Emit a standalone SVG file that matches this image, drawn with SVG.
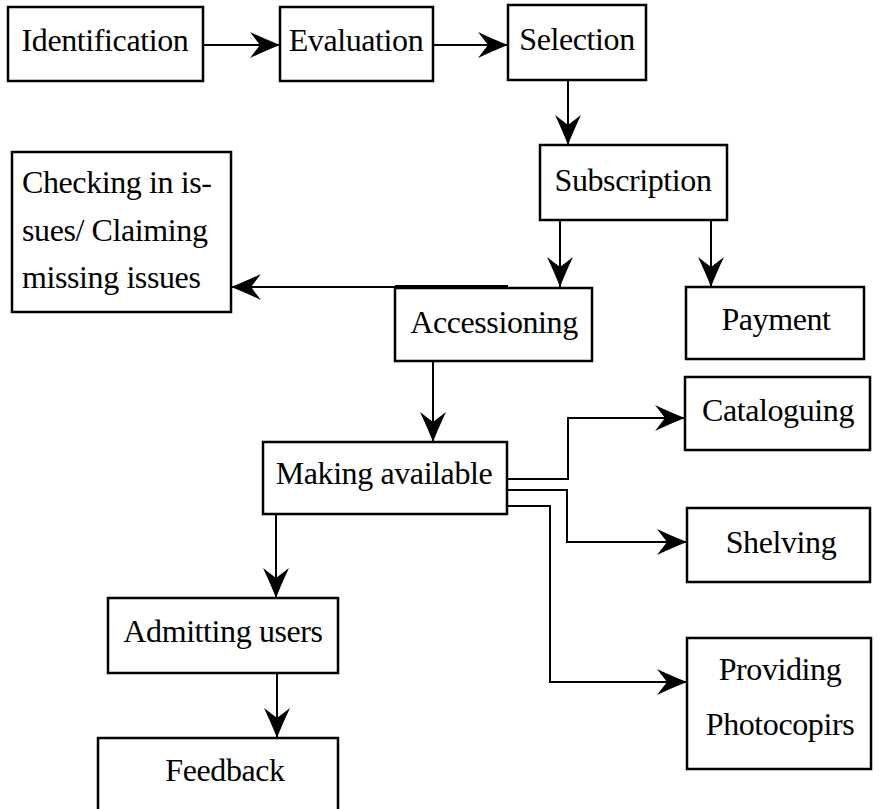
<svg xmlns="http://www.w3.org/2000/svg" width="880" height="809" viewBox="0 0 880 809">
<style>
.box{fill:#fff;stroke:#000;stroke-width:2.5}
.c{fill:none;stroke:#000;stroke-width:2}
text{font-family:'Liberation Serif','Times New Roman',serif;font-size:32px;letter-spacing:-0.4px;fill:#000}
.m{text-anchor:middle}
</style>
<defs>
<marker id="ah" viewBox="0 0 30 26" refX="30" refY="13" markerWidth="30" markerHeight="26" orient="auto" markerUnits="userSpaceOnUse">
<path d="M0,0 Q17,8 30,13 Q17,18 0,26 L10,13 Z" fill="#000"/>
</marker>
</defs>
<rect width="880" height="809" fill="#fff"/>
<g id="n-identification"><rect class="box" x="8" y="7" width="195" height="74"/><text class="m" x="105" y="51">Identification</text></g>
<g id="n-evaluation"><rect class="box" x="280" y="7" width="153" height="74"/><text class="m" x="356" y="51">Evaluation</text></g>
<g id="n-selection"><rect class="box" x="508" y="5" width="138" height="75"/><text class="m" x="577" y="50">Selection</text></g>
<g id="n-subscription"><rect class="box" x="540" y="145" width="187" height="75"/><text class="m" x="633" y="191">Subscription</text></g>
<g id="n-checking"><rect class="box" x="12" y="152" width="219" height="160"/>
<text x="22" y="193">Checking in is-</text><text x="22" y="241">sues/ Claiming</text><text x="22" y="288">missing issues</text></g>
<g id="n-accessioning"><rect class="box" x="395" y="288" width="197" height="73"/><text class="m" x="494" y="333">Accessioning</text></g>
<g id="n-payment"><rect class="box" x="686" y="287" width="178" height="72"/><text class="m" x="776" y="330">Payment</text></g>
<g id="n-cataloguing"><rect class="box" x="685" y="377" width="185" height="73"/><text class="m" x="778" y="421">Cataloguing</text></g>
<g id="n-making"><rect class="box" x="263" y="442" width="244" height="72"/><text class="m" x="384" y="484">Making available</text></g>
<g id="n-shelving"><rect class="box" x="687" y="508" width="183" height="74"/><text class="m" x="781" y="553">Shelving</text></g>
<g id="n-providing"><rect class="box" x="687" y="638" width="184" height="131"/><text class="m" x="780" y="680">Providing</text><text class="m" x="780" y="735">Photocopirs</text></g>
<g id="n-admitting"><rect class="box" x="108" y="598" width="230" height="75"/><text class="m" x="223" y="642">Admitting users</text></g>
<g id="n-feedback"><rect class="box" x="98" y="738" width="240" height="100"/><text class="m" x="225" y="781">Feedback</text></g>
<g id="connectors">
<line class="c" x1="203" y1="45" x2="280" y2="45" marker-end="url(#ah)"/>
<line class="c" x1="433" y1="45" x2="508" y2="45" marker-end="url(#ah)"/>
<line class="c" x1="568" y1="80" x2="568" y2="145" marker-end="url(#ah)"/>
<line class="c" x1="560" y1="220" x2="560" y2="287" marker-end="url(#ah)"/>
<line class="c" x1="711" y1="220" x2="711" y2="287" marker-end="url(#ah)"/>
<line x1="395" y1="287" x2="508" y2="287" stroke="#000" stroke-width="4"/>
<line class="c" x1="508" y1="287" x2="231" y2="287" marker-end="url(#ah)"/>
<line class="c" x1="433" y1="361" x2="433" y2="442" marker-end="url(#ah)"/>
<polyline class="c" points="507,479 568,479 568,418 685,418" marker-end="url(#ah)"/>
<polyline class="c" points="507,490 567,490 567,542 687,542" marker-end="url(#ah)"/>
<polyline class="c" points="507,506 550,506 550,682 687,682" marker-end="url(#ah)"/>
<line class="c" x1="276" y1="514" x2="276" y2="598" marker-end="url(#ah)"/>
<line class="c" x1="277" y1="673" x2="277" y2="738" marker-end="url(#ah)"/>
</g>
</svg>
